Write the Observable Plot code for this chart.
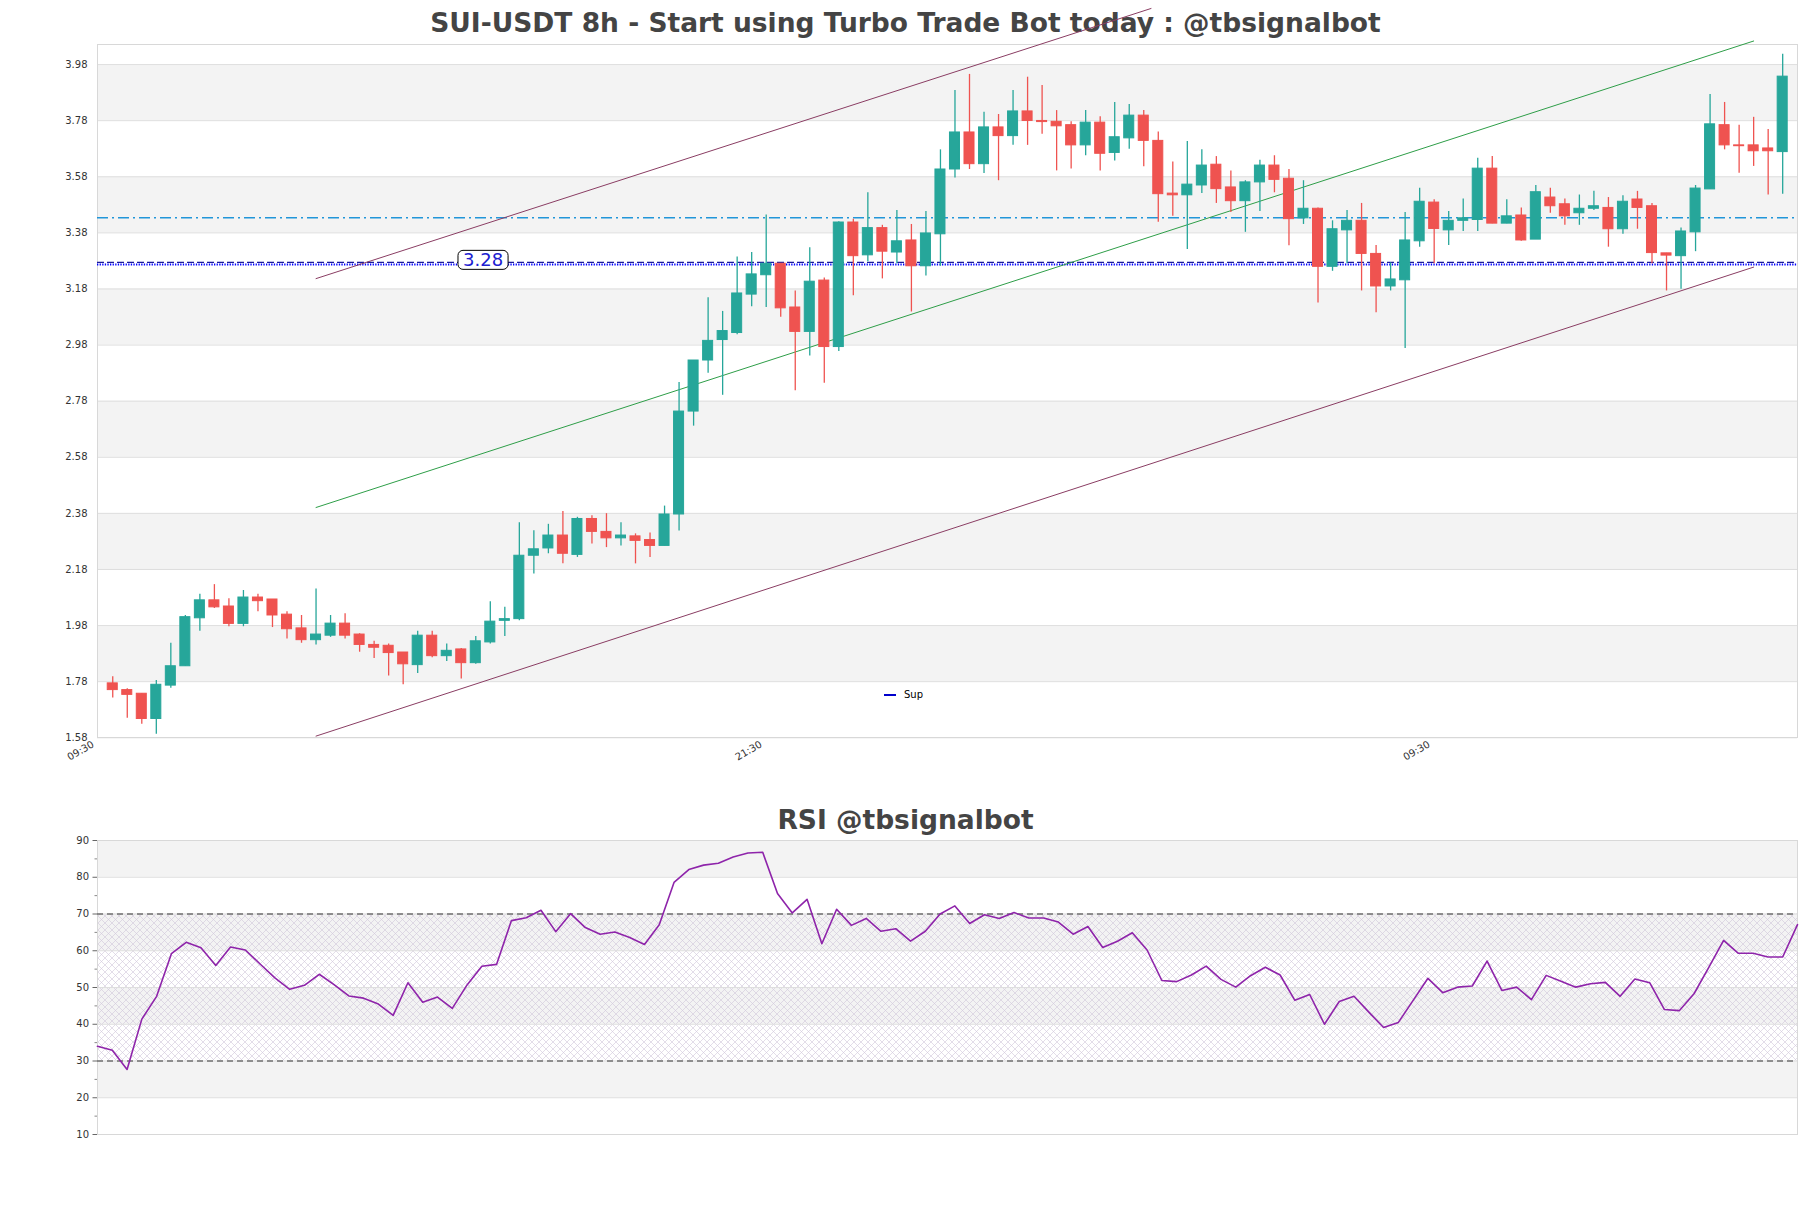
<!DOCTYPE html>
<html><head><meta charset="utf-8">
<script src="https://cdn.jsdelivr.net/npm/d3@7"></script>
<script src="https://cdn.jsdelivr.net/npm/@observablehq/plot@0.6"></script>
<style>
html,body{margin:0;padding:0;background:#fff;overflow:hidden;}
#root{position:relative;width:1811px;height:1208px;font-family:"DejaVu Sans",sans-serif;}
.title{position:absolute;left:0;width:1811px;text-align:center;font-weight:bold;font-size:26.5px;color:#444;line-height:30px;z-index:0;}
#main{position:absolute;left:0;top:0;z-index:1;}
#rsi{position:absolute;left:0;top:790px;z-index:1;}
#legend{position:absolute;left:884px;top:689px;z-index:2;font-size:10px;color:#000;display:flex;align-items:center;}
</style></head><body>
<div id="root">
  <div class="title" style="top:8px">SUI-USDT 8h - Start using Turbo Trade Bot today : @tbsignalbot</div>
  <div class="title" style="top:805px">RSI @tbsignalbot</div>
  <div id="main"></div>
  <div id="rsi"></div>
  <div id="legend"><span style="display:inline-block;width:12px;height:2px;background:#0000cc;margin-right:8px"></span>Sup</div>
</div>
<script>
// ---- candle data (8h SUI-USDT) ----
const opens  = [1.774,1.750,1.737,1.647,1.766,1.835,2.006,2.070,2.048,1.986,2.080,2.073,2.019,1.970,1.928,1.944,1.987,1.948,1.911,1.908,
                1.884,1.839,1.944,1.871,1.895,1.846,1.920,1.997,2.003,2.229,2.255,2.301,2.232,2.360,2.314,2.291,2.298,2.285,2.264,2.376,
                2.743,2.925,2.998,3.023,3.160,3.229,3.270,3.114,3.027,3.210,2.973,3.417,3.300,3.397,3.310,3.353,3.261,3.375,3.606,3.738,
                3.625,3.756,3.725,3.813,3.779,3.776,3.764,3.692,3.773,3.665,3.717,3.798,3.708,3.520,3.514,3.549,3.623,3.542,3.493,3.560,
                3.620,3.573,3.432,3.466,3.259,3.389,3.423,3.305,3.189,3.211,3.350,3.488,3.389,3.423,3.426,3.609,3.413,3.442,3.356,3.506,
                3.482,3.450,3.466,3.469,3.393,3.499,3.475,3.307,3.297,3.382,3.535,3.764,3.692,3.692,3.681,3.668];
const highs  = [1.798,1.755,1.737,1.784,1.917,2.016,2.092,2.126,2.076,2.105,2.092,2.073,2.029,2.016,2.110,2.016,2.022,1.951,1.924,1.914,
                1.884,1.960,1.960,1.914,1.898,1.941,2.065,2.045,2.347,2.318,2.341,2.387,2.366,2.372,2.379,2.347,2.307,2.310,2.406,2.847,
                2.925,3.149,3.100,3.294,3.310,3.444,3.270,3.173,3.327,3.219,3.420,3.429,3.523,3.407,3.460,3.410,3.456,3.676,3.888,3.945,
                3.810,3.802,3.888,3.935,3.905,3.816,3.776,3.816,3.794,3.845,3.838,3.816,3.740,3.633,3.706,3.676,3.652,3.601,3.566,3.639,
                3.655,3.606,3.566,3.469,3.423,3.460,3.485,3.335,3.273,3.453,3.539,3.498,3.456,3.501,3.646,3.652,3.498,3.469,3.549,3.539,
                3.501,3.515,3.528,3.506,3.512,3.528,3.485,3.307,3.397,3.549,3.873,3.845,3.764,3.792,3.749,4.017];
const lows   = [1.722,1.650,1.628,1.593,1.757,1.835,1.960,2.041,1.976,1.976,2.029,1.973,1.932,1.917,1.911,1.938,1.932,1.885,1.863,1.800,
                1.769,1.809,1.865,1.852,1.790,1.842,1.914,1.941,1.997,2.164,2.236,2.200,2.223,2.271,2.258,2.264,2.200,2.223,2.264,2.317,
                2.691,2.880,2.801,3.017,3.117,3.114,3.079,2.817,2.941,2.844,2.957,3.156,3.277,3.216,3.270,3.098,3.226,3.261,3.576,3.606,
                3.592,3.566,3.692,3.692,3.732,3.601,3.608,3.655,3.601,3.636,3.678,3.616,3.418,3.439,3.321,3.520,3.485,3.453,3.382,3.456,
                3.523,3.334,3.410,3.130,3.243,3.270,3.173,3.095,3.173,2.968,3.329,3.270,3.335,3.385,3.385,3.413,3.413,3.350,3.356,3.450,
                3.407,3.407,3.460,3.329,3.375,3.393,3.270,3.173,3.179,3.313,3.535,3.676,3.593,3.617,3.515,3.518];
const closes = [1.750,1.733,1.647,1.769,1.835,2.010,2.070,2.045,1.986,2.080,2.067,2.016,1.967,1.928,1.948,1.987,1.944,1.911,1.901,1.882,
                1.842,1.944,1.871,1.890,1.846,1.924,1.994,2.003,2.229,2.252,2.301,2.236,2.360,2.314,2.291,2.301,2.282,2.264,2.376,2.743,
                2.925,2.995,3.030,3.164,3.232,3.270,3.111,3.027,3.206,2.973,3.417,3.297,3.397,3.313,3.350,3.261,3.378,3.606,3.738,3.625,
                3.756,3.725,3.813,3.779,3.775,3.760,3.692,3.773,3.662,3.721,3.798,3.708,3.518,3.514,3.552,3.620,3.536,3.493,3.560,3.620,
                3.569,3.429,3.466,3.259,3.393,3.423,3.305,3.189,3.214,3.353,3.491,3.394,3.423,3.432,3.609,3.413,3.439,3.353,3.525,3.475,
                3.439,3.466,3.475,3.393,3.491,3.469,3.308,3.299,3.385,3.538,3.767,3.692,3.689,3.671,3.671,3.937];

// RSI values (one per candle)
const rsi = [34.0,32.9,27.7,41.4,47.6,59.2,62.3,60.8,56.0,61.0,60.2,56.4,52.6,49.5,50.6,53.6,50.8,47.7,47.1,45.5,
             42.4,51.3,46.0,47.4,44.3,50.7,55.8,56.3,68.2,69.0,71.0,65.2,70.1,66.3,64.5,65.1,63.6,61.7,67.1,78.6,
             82.1,83.3,83.8,85.5,86.6,86.8,75.6,70.3,74.0,61.9,71.3,66.9,68.8,65.3,66.0,62.6,65.3,70.0,72.2,67.4,
             69.8,68.8,70.4,68.9,68.9,67.8,64.5,66.6,60.9,62.6,64.9,60.2,51.9,51.6,53.4,55.8,52.2,50.1,53.2,55.5,
             53.4,46.5,48.1,40.0,46.2,47.6,43.3,39.1,40.5,46.5,52.5,48.6,50.1,50.4,57.2,49.2,50.1,46.7,53.3,51.7,
             50.1,51.0,51.4,47.6,52.3,51.3,44.0,43.7,48.3,55.5,62.8,59.3,59.3,58.3,58.3,67.1];

// axis ticks
const yTicks = [1.58,1.78,1.98,2.18,2.38,2.58,2.78,2.98,3.18,3.38,3.58,3.78,3.98];
const xTickPos = [-1, 45, 91];
const xTickLabels = ["09:30","21:30","09:30"];
const rsiTicks = [10,20,30,40,50,60,70,80,90];
const rsiMinor = [15,25,35,45,55,65,75,85];

// levels & channel
const resistLevel = 3.434;
const supLevel = 3.275;
const supDotLevel = 3.267;
const supLabel = [{i: 25.5, v: 3.283, t: "3.28"}];
const channelUpper = [{i: 14, v: 3.217}, {i: 71.5, v: 4.18}];
const channelMid   = [{i: 14, v: 2.401}, {i: 113, v: 4.064}];
const channelLower = [{i: 14, v: 1.586}, {i: 113, v: 3.258}];

const GREEN = "#26a69a", RED = "#ef5350";
const candles = opens.map((o, i) => ({i, o, h: highs[i], l: lows[i], c: closes[i]}));
const col = d => d.c >= d.o ? GREEN : RED;
const bands = yTicks.slice(0, -1).map((t, k) => ({y1: t, y2: yTicks[k + 1], k})).filter(b => b.k % 2 === 1);
const tickMap = new Map(xTickPos.map((p, k) => [p, xTickLabels[k]]));

const baseStyle = {background: "transparent", fontFamily: "DejaVu Sans, sans-serif", fontSize: "10px", color: "#333", overflow: "visible"};

const main = Plot.plot({
  width: 1811, height: 790,
  marginTop: 44, marginBottom: 53, marginLeft: 97, marginRight: 14,
  style: baseStyle,
  x: {type: "linear", domain: [-1.05, 116.02]},
  y: {domain: [1.581, 4.0516]},
  marks: [
    Plot.rect(bands, {y1: "y1", y2: "y2", fill: "#f3f3f3"}),
    Plot.ruleY(yTicks, {stroke: "#dedede", strokeWidth: 1}),
    Plot.frame({stroke: "#d8d8d8"}),
    Plot.ruleY([resistLevel], {stroke: "#2196d9", strokeWidth: 1.3, strokeDasharray: "11,4,2,4"}),
    Plot.ruleY([supLevel], {stroke: "#1a1a9a", strokeWidth: 1.4, strokeDasharray: "7,3"}),
    Plot.ruleY([supDotLevel], {stroke: "#0000ff", strokeWidth: 2, strokeDasharray: "1.3,1.3"}),
    Plot.line(channelLower, {x: "i", y: "v", stroke: "#8a3d63", strokeWidth: 1}),
    Plot.line(channelMid, {x: "i", y: "v", stroke: "#2e9e48", strokeWidth: 1}),
    Plot.line(channelUpper, {x: "i", y: "v", stroke: "#8a3d63", strokeWidth: 1}),
    Plot.ruleX(candles, {x: "i", y1: "l", y2: "h", stroke: col, strokeWidth: 1.3}),
    Plot.rect(candles, {x1: d => d.i - 0.345, x2: d => d.i + 0.345,
      y1: d => Math.min(d.o, d.c), y2: d => Math.max(d.o, d.c), fill: col, stroke: col, strokeWidth: 1}),
    Plot.text(supLabel, {x: "i", y: "v", text: "t", fill: "#2020d0", fontSize: 18, className: "suplabel"}),
    Plot.axisY({ticks: yTicks, tickFormat: d3.format(".2f"), tickSize: 0, tickPadding: 10, fontSize: 10, fill: "#333", label: null}),
    Plot.axisX({ticks: xTickPos, tickFormat: d => tickMap.get(d), tickSize: 0, tickPadding: 5, tickRotate: -30, fontSize: 10, fill: "#333", label: null, dx: -5, dy: 1})
  ]
});
document.getElementById("main").appendChild(main);

// rounded box behind the 3.28 label
d3.select(main).selectAll("g.suplabel text").each(function () {
  const b = this.getBBox();
  const tr = this.getAttribute("transform");
  const cy = b.y + b.height / 2 + 0.5;
  const r = d3.select(this.parentNode).insert("rect", "text")
    .attr("x", b.x - 5).attr("y", cy - 9.5).attr("width", b.width + 10).attr("height", 19)
    .attr("rx", 5).attr("fill", "#fff").attr("stroke", "#000").attr("stroke-width", 1);
  if (tr) r.attr("transform", tr);
});

const rsiBands = rsiTicks.slice(0, -1).map((t, k) => ({y1: t, y2: rsiTicks[k + 1], k})).filter(b => b.k % 2 === 1);
const rsiPts = rsi.map((v, i) => ({i, v}));

const rsiPlot = Plot.plot({
  width: 1811, height: 418,
  marginTop: 50, marginBottom: 74, marginLeft: 97, marginRight: 14,
  style: baseStyle,
  x: {type: "linear", domain: [0, rsi.length - 1], axis: null},
  y: {domain: [10, 90]},
  marks: [
    Plot.rect(rsiBands, {y1: "y1", y2: "y2", fill: "#f3f3f3"}),
    Plot.rect([{y1: 30, y2: 70}], {y1: "y1", y2: "y2", fill: "url(#rsihatch)"}),
    Plot.ruleY(rsiTicks, {stroke: "#dedede"}),
    Plot.frame({stroke: "#d8d8d8"}),
    Plot.ruleY([30, 70], {stroke: "#333", strokeWidth: 1.2, strokeDasharray: "6,4"}),
    Plot.line(rsiPts, {x: "i", y: "v", stroke: "#8e24aa", strokeWidth: 1.6}),
    Plot.axisY({ticks: rsiTicks, tickSize: 4.5, tickPadding: 4, fontSize: 10, fill: "#333", stroke: "#666", label: null}),
    Plot.axisY({ticks: rsiMinor, tickSize: 2.5, tickFormat: () => "", stroke: "#888", label: null})
  ]
});
document.getElementById("rsi").appendChild(rsiPlot);
const defs = d3.select(rsiPlot).insert("defs", ":first-child");
const pat = defs.append("pattern").attr("id", "rsihatch").attr("patternUnits", "userSpaceOnUse")
  .attr("width", 7).attr("height", 7);
pat.append("path").attr("d", "M0,0L7,7M7,0L0,7M-1,6L1,8M6,-1L8,1M-1,1L1,-1M6,8L8,6")
  .attr("stroke", "#d0c6da").attr("stroke-width", 0.6).attr("fill", "none");
</script>
</body></html>
